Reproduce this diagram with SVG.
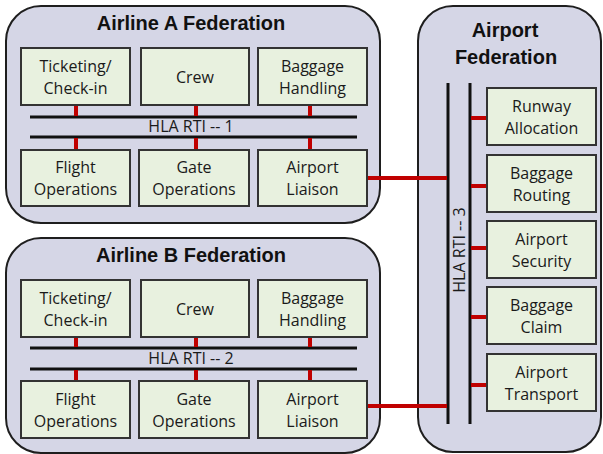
<svg xmlns="http://www.w3.org/2000/svg" width="603" height="454" viewBox="0 0 603 454">
<style>
.fed{fill:#d5d6e6;stroke:#1e1e1e;stroke-width:2}
.box{fill:#e8f1df;stroke:#333;stroke-width:2}
.t{font-family:"Open Sans","Liberation Sans",Arial,sans-serif;font-size:16px;fill:#1a1a1a;text-anchor:middle}
.title{font-family:"Liberation Sans",Arial,sans-serif;font-size:20px;font-weight:bold;fill:#111;text-anchor:middle}
.bus{stroke:#111;stroke-width:3;fill:none}
.red{stroke:#c00000;stroke-width:4;fill:none}
</style>
<g id="airline-a">
<rect class="fed" x="6" y="6" width="374" height="217" rx="35"/>
<text class="title" x="191" y="30">Airline A Federation</text>
</g>
<g id="airline-b">
<rect class="fed" x="6" y="238" width="374" height="215" rx="35"/>
<text class="title" x="191" y="262">Airline B Federation</text>
</g>
<g id="airport">
<rect class="fed" x="418" y="6" width="183" height="446" rx="35"/>
<text class="title" x="505" y="37">Airport</text>
<text class="title" x="506" y="64">Federation</text>
</g>
<g id="connectors">
<line class="bus" x1="30" y1="117" x2="357" y2="117"/>
<line class="bus" x1="30" y1="137" x2="357" y2="137"/>
<line class="bus" x1="30" y1="348" x2="357" y2="348"/>
<line class="bus" x1="30" y1="369" x2="357" y2="369"/>
<line class="bus" x1="448" y1="83" x2="448" y2="424"/>
<line class="bus" x1="470" y1="83" x2="470" y2="424"/>
<path class="red" d="M76 105V116M196 105V116M310 105V116M76 138V150M196 138V150M310 138V150"/>
<path class="red" d="M76 337V347M196 337V347M310 337V347M76 370V381M196 370V381M310 370V381"/>
<path class="red" d="M367 178H447M367 406H447"/>
<path class="red" d="M471 118H487M471 186H487M471 248H487M471 317H487M471 385H487"/>
</g>
<g id="rti-labels">
<text class="t" x="191" y="132">HLA RTI -- 1</text>
<text class="t" x="191" y="364">HLA RTI -- 2</text>
<text class="t" transform="translate(465 250) rotate(-90)" x="0" y="0">HLA RTI -- 3</text>
</g>
<g id="a-ticketing"><rect class="box" x="21" y="48" width="109" height="57"/><text class="t" x="75.5" y="72">Ticketing/</text><text class="t" x="75.5" y="94">Check-in</text></g>
<g id="a-crew"><rect class="box" x="141" y="48" width="108" height="57"/><text class="t" x="195" y="83">Crew</text></g>
<g id="a-baggage"><rect class="box" x="258" y="48" width="109" height="57"/><text class="t" x="312.5" y="72">Baggage</text><text class="t" x="312.5" y="94">Handling</text></g>
<g id="a-flight"><rect class="box" x="21" y="150" width="109" height="56"/><text class="t" x="75.5" y="173">Flight</text><text class="t" x="75.5" y="195">Operations</text></g>
<g id="a-gate"><rect class="box" x="139" y="150" width="110" height="56"/><text class="t" x="194" y="173">Gate</text><text class="t" x="194" y="195">Operations</text></g>
<g id="a-liaison"><rect class="box" x="258" y="150" width="109" height="56"/><text class="t" x="312.5" y="173">Airport</text><text class="t" x="312.5" y="195">Liaison</text></g>
<g id="b-ticketing"><rect class="box" x="21" y="280" width="109" height="57"/><text class="t" x="75.5" y="304">Ticketing/</text><text class="t" x="75.5" y="326">Check-in</text></g>
<g id="b-crew"><rect class="box" x="141" y="280" width="108" height="57"/><text class="t" x="195" y="315">Crew</text></g>
<g id="b-baggage"><rect class="box" x="258" y="280" width="109" height="57"/><text class="t" x="312.5" y="304">Baggage</text><text class="t" x="312.5" y="326">Handling</text></g>
<g id="b-flight"><rect class="box" x="21" y="381" width="109" height="57"/><text class="t" x="75.5" y="405">Flight</text><text class="t" x="75.5" y="427">Operations</text></g>
<g id="b-gate"><rect class="box" x="139" y="381" width="110" height="57"/><text class="t" x="194" y="405">Gate</text><text class="t" x="194" y="427">Operations</text></g>
<g id="b-liaison"><rect class="box" x="258" y="381" width="109" height="57"/><text class="t" x="312.5" y="405">Airport</text><text class="t" x="312.5" y="427">Liaison</text></g>
<g id="runway"><rect class="box" x="487" y="88" width="109" height="57"/><text class="t" x="541.5" y="112">Runway</text><text class="t" x="541.5" y="134">Allocation</text></g>
<g id="baggage-routing"><rect class="box" x="487" y="155" width="109" height="57"/><text class="t" x="541.5" y="179">Baggage</text><text class="t" x="541.5" y="201">Routing</text></g>
<g id="security"><rect class="box" x="487" y="221" width="109" height="57"/><text class="t" x="541.5" y="245">Airport</text><text class="t" x="541.5" y="267">Security</text></g>
<g id="baggage-claim"><rect class="box" x="487" y="287" width="109" height="57"/><text class="t" x="541.5" y="311">Baggage</text><text class="t" x="541.5" y="333">Claim</text></g>
<g id="transport"><rect class="box" x="487" y="354" width="109" height="57"/><text class="t" x="541.5" y="378">Airport</text><text class="t" x="541.5" y="400">Transport</text></g>
</svg>
